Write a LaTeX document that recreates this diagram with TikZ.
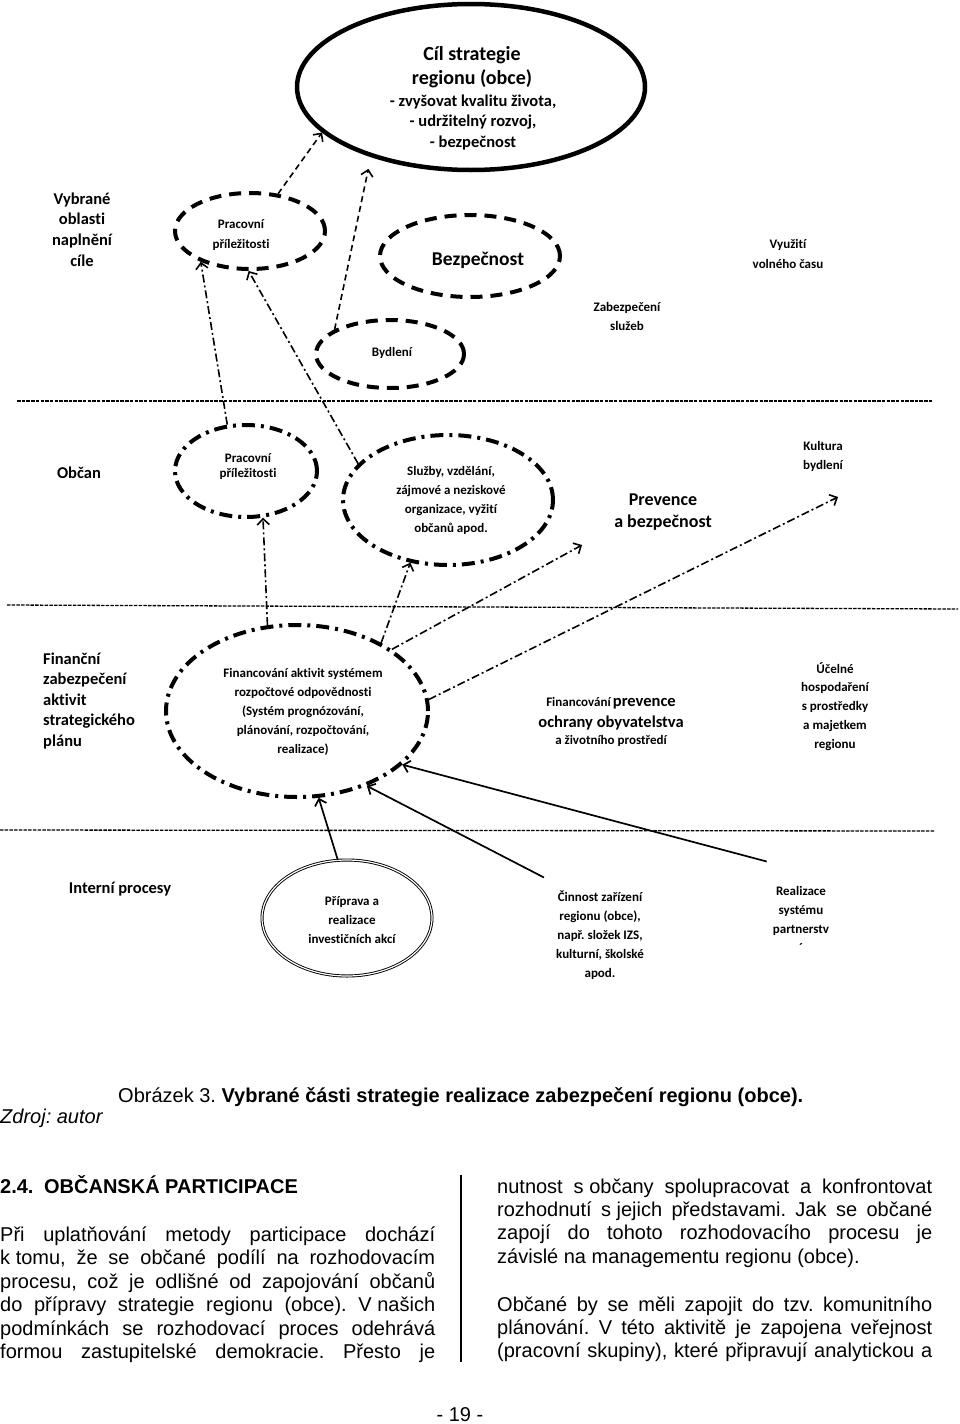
\documentclass[tikz,border=0pt]{standalone}
\usepackage{fontspec}
\setmainfont{Carlito}[Ligatures={NoCommon}]
\newfontfamily\arialf{Liberation Sans}
\usetikzlibrary{arrows.meta,shapes.geometric,calc}
\newcommand{\mctr}[1]{\begin{tabular}[t]{@{}c@{}}#1\end{tabular}}
\newcommand{\mlft}[1]{\begin{tabular}[t]{@{}l@{}}#1\end{tabular}}
\newcommand{\myfs}[2]{\fontsize{#1}{#2}\selectfont}
\newcommand{\jl}[1]{\makebox[435pt][s]{#1}}
\newcommand{\fsp}{\hspace{0.278em}}
\frenchspacing
\begin{document}
\begin{tikzpicture}[x=1pt,y=-1pt,
  goalell/.style={ellipse, draw, line width=4.5pt, inner sep=0pt},
  dell/.style={ellipse, draw, line width=4pt, dash pattern=on 12pt off 8pt, inner sep=0pt},
  ddell/.style={ellipse, draw, line width=4pt, dash pattern=on 13pt off 6pt on 3pt off 6pt, inner sep=0pt},
  dblell/.style={ellipse, draw, double, double distance=1.2pt, line width=0.9pt, inner sep=0pt},
  txt/.style={inner sep=0pt, anchor=base},
  tip/.style={-{Straight Barb[length=6pt,width=12pt]}},
  dconn/.style={tip, line width=1.6pt, dash pattern=on 6pt off 4pt},
  ddconn/.style={tip, line width=1.6pt, dash pattern=on 8pt off 3pt on 2pt off 3pt},
  sconn/.style={tip, line width=1.7pt},
  sep/.style={line width=1.3pt, dash pattern=on 3.5pt off 1.2pt},
  btxt/.style={inner sep=0pt, anchor=base west, font=\arialf\myfs{20}{23.4}}
]
\useasboundingbox (0,0) rectangle (960,1424);
\fill[white] (0,0) rectangle (960,1424);

% separators
\draw[sep] (17,401) -- (933,401);
\draw[sep] (7,605) -- (958,609);
\draw[sep] (0,830) -- (935,831);

% ellipses
\node[goalell, minimum width=348pt, minimum height=166pt] (goal) at (471,87) {};
\node[dell, minimum width=150pt, minimum height=76pt] (pp1) at (250,231) {};
\node[dell, minimum width=180pt, minimum height=82pt] (bez) at (470,256) {};
\node[dell, minimum width=148pt, minimum height=68pt] (byd) at (390,354) {};
\node[ddell, minimum width=142pt, minimum height=92pt] (pp2) at (246,471) {};
\node[ddell, minimum width=210pt, minimum height=130pt] (sl) at (448,500) {};
\node[ddell, minimum width=262pt, minimum height=172pt] (fin) at (297,711) {};
\node[dblell, minimum width=170pt, minimum height=116pt] (prip) at (347,918) {};

% texts row 0
\node[txt, font=\bfseries\myfs{20}{24}] (goalt) at (472,60) {\mctr{Cíl strategie\\regionu (obce)}};
\node[txt, font=\bfseries\myfs{16.5}{20.5}] (goalb) at (473,106) {\mctr{- zvyšovat kvalitu života,\\- udržitelný rozvoj,\\- bezpečnost}};

% row 1
\node[txt, font=\bfseries\myfs{16.5}{20.7}] (vyb) at (82,204) {\mctr{Vybrané\\oblasti\\naplnění\\cíle}};
\node[txt, font=\bfseries\myfs{13}{20}] (pp1t) at (241,228) {\mctr{Pracovní\\příležitosti}};
\node[txt, font=\bfseries\myfs{19.5}{23}] (bezt) at (478,265) {Bezpečnost};
\node[txt, font=\bfseries\myfs{13}{19}] (bydt) at (392,356) {Bydlení};
\node[txt, font=\bfseries\myfs{13}{20}] (vyu) at (788,248) {\mctr{Využití\\volného času}};
\node[txt, font=\bfseries\myfs{13}{19}] (zab) at (627,311) {\mctr{Zabezpečení\\služeb}};

% row 2
\node[txt, font=\bfseries\myfs{16.5}{20}] (obc) at (79,478) {Občan};
\node[txt, font=\bfseries\myfs{13}{15.5}] (pp2t) at (248,462) {\mctr{Pracovní\\příležitosti}};
\node[txt, font=\bfseries\myfs{13}{19.3}] (slt) at (451,475) {\mctr{Služby, vzdělání,\\zájmové a neziskové\\organizace, vyžití\\občanů apod.}};
\node[txt, font=\bfseries\myfs{18}{22}] (prev) at (663,505) {\mctr{Prevence\\a bezpečnost}};
\node[txt, font=\bfseries\myfs{13}{19}] (kult) at (823,450) {\mctr{Kultura\\bydlení}};

% row 3
\node[inner sep=0pt, anchor=base west, font=\bfseries\myfs{16.5}{20.6}] (finl) at (43,664) {\mlft{Finanční\\zabezpečení\\aktivit\\strategického\\plánu}};
\node[txt, font=\bfseries\myfs{13}{19}] (fint) at (303,677) {\mctr{Financování aktivit systémem\\rozpočtové odpovědnosti\\(Systém prognózování,\\plánování, rozpočtování,\\realizace)}};
\node[txt, font=\bfseries] (fp1) at (611,706) {{\myfs{13}{16}Financování} {\myfs{16.5}{20}prevence}};
\node[txt, font=\bfseries\myfs{16.5}{20}] (fp2) at (611,727) {ochrany obyvatelstva};
\node[txt, font=\bfseries\myfs{13}{16}] (fp3) at (611,744) {a životního prostředí};
\node[txt, font=\bfseries\myfs{13}{18.8}] (uce) at (835,673) {\mctr{Účelné\\hospodaření\\s prostředky\\a majetkem\\regionu}};

% row 4
\node[txt, font=\bfseries\myfs{16.5}{20}] (intp) at (120,893) {Interní procesy};
\node[txt, font=\bfseries\myfs{13}{19}] (pript) at (352,905) {\mctr{Příprava a\\realizace\\investičních akcí}};
\node[txt, font=\bfseries\myfs{13}{19}] (cin) at (600,901) {\mctr{Činnost zařízení\\regionu (obce),\\např. složek IZS,\\kulturní, školské\\apod.}};
\node[txt, font=\bfseries\myfs{13}{19}] (real) at (801,895) {\mctr{Realizace\\systému\\partnerstv\\´}};

% free ends
\coordinate (prevtip) at (582,545);
\coordinate (kulttip) at (838,497);

% connectors
\draw[dconn] (pp1.53) -- (goal.197);
\draw[dconn, shorten >=12pt] (byd.156) -- (goal.215);
\draw[ddconn] (pp2.112) -- (pp1.212);
\draw[ddconn] (sl.158) -- (pp1.268);
\draw[ddconn] (fin.109) -- (pp2.290);
\draw[ddconn] (fin.39) -- (sl.239);
\draw[ddconn] (fin.33) -- (prevtip);
\draw[ddconn] (fin.5) -- (kulttip);
\draw[sconn] (prip.99) -- (fin.284);
\draw[sconn] ([shift={(-12,-10)}]cin.north west) -- (fin.313);
\draw[sconn] ([shift={(-6,-20)}]real.north west) -- (fin.333);

% caption and page text
\node[btxt] (cap) at (118,1102) {Obrázek 3. \textbf{Vybrané části strategie realizace zabezpečení regionu (obce).}};
\node[btxt] (zdroj) at (0,1123) {\itshape Zdroj: autor};
\node[btxt] (head) at (0,1193.5) {\textbf{2.4.\hspace{10.6pt}OBČANSKÁ PARTICIPACE}};
\node[btxt] (parl) at (0,1241.5) {\mlft{\jl{Při uplatňování metody participace dochází}\\
\jl{k\fsp tomu, že se občané podílí na rozhodovacím}\\
\jl{procesu, což je odlišné od zapojování občanů}\\
\jl{do přípravy strategie regionu (obce). V\fsp našich}\\
\jl{podmínkách se rozhodovací proces odehrává}\\
\jl{formou zastupitelské demokracie. Přesto je}}};
\node[btxt] (parr1) at (497,1193) {\mlft{\jl{nutnost s\fsp občany spolupracovat a konfrontovat}\\
\jl{rozhodnutí s\fsp jejich představami. Jak se občané}\\
\jl{zapojí do tohoto rozhodovacího procesu je}\\
závislé na managementu regionu (obce).}};
\node[btxt] (parr2) at (497,1311) {\mlft{\jl{Občané by se měli zapojit do tzv. komunitního}\\
\jl{plánování. V této aktivitě je zapojena veřejnost}\\
\jl{(pracovní skupiny), které připravují analytickou a}}};
\draw[line width=1.5pt] (461,1175) -- (461,1362);
\node[txt, font=\arialf\myfs{20}{24}] (pg) at (460,1421) {- 19 -};
\end{tikzpicture}
\end{document}
